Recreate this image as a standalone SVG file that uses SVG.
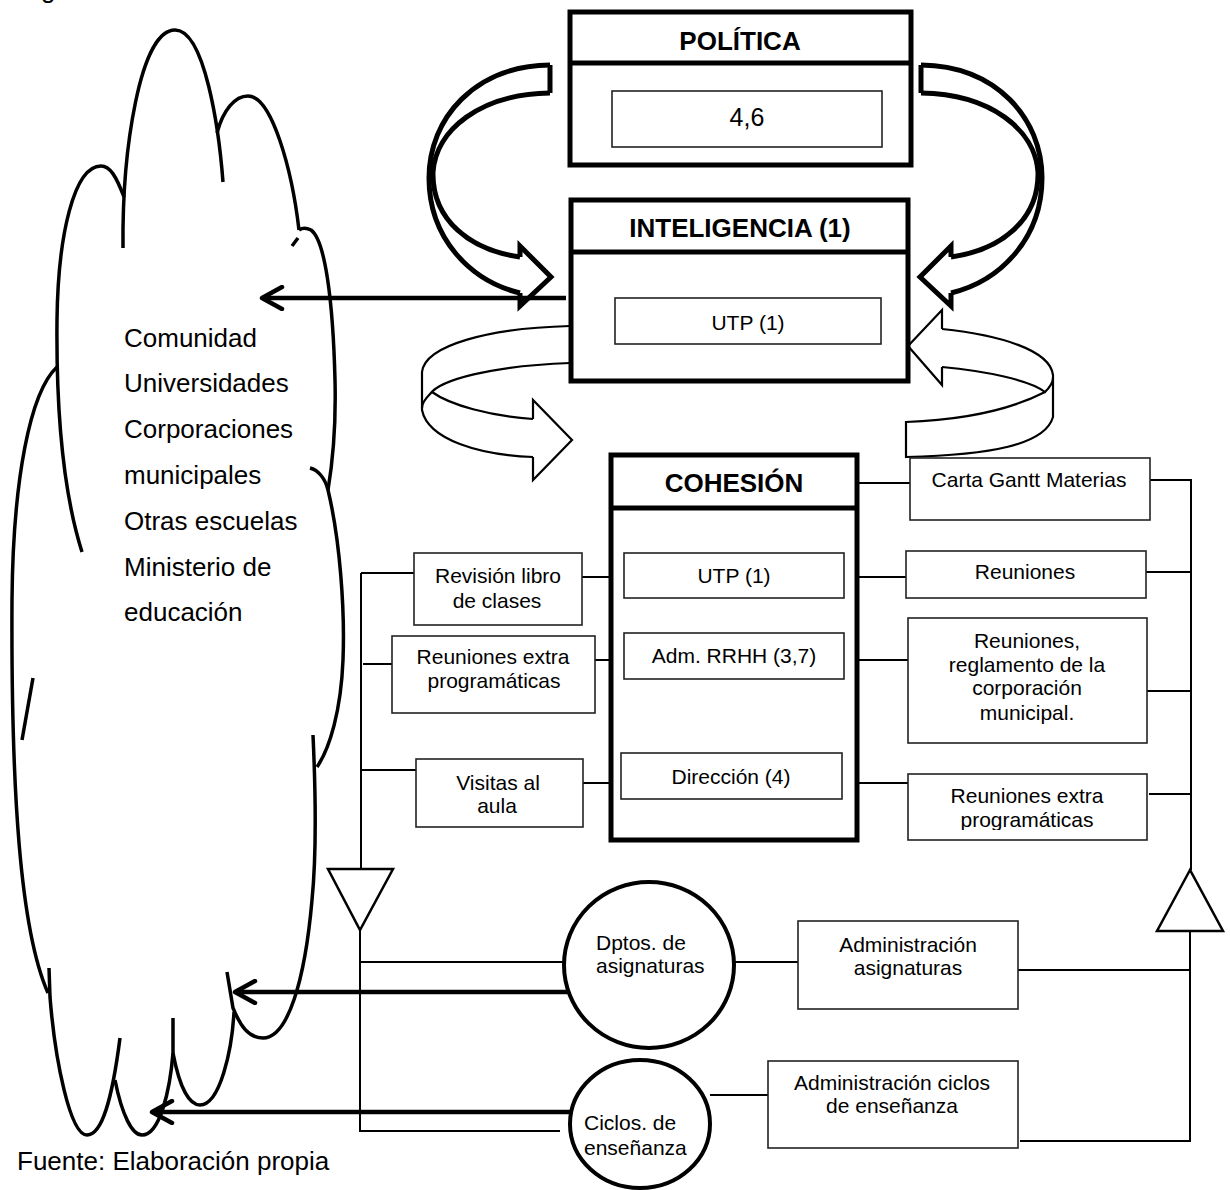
<svg xmlns="http://www.w3.org/2000/svg" width="1230" height="1190" viewBox="0 0 1230 1190">
<defs>
<style>
text{font-family:"Liberation Sans",Arial,sans-serif;fill:#000}
.t{font-size:21px;text-anchor:middle}
.tl{font-size:21px}
.h{font-size:26px;font-weight:bold;text-anchor:middle}
.c{font-size:26px}
.frame{fill:#fff;stroke:#000;stroke-width:5}
.box{fill:#fff;stroke:#222;stroke-width:1.6}
.ln{fill:none;stroke:#000;stroke-width:2}
.thick{fill:none;stroke:#000;stroke-width:4.5}
.cloud{fill:none;stroke:#000;stroke-width:3.5}
.rib{fill:none;stroke:#000;stroke-width:5;stroke-linejoin:miter}
.rib2{fill:none;stroke:#000;stroke-width:2.2;stroke-linejoin:miter}
.ball{fill:#fff;stroke:#000;stroke-width:4}
.tri{fill:#fff;stroke:#000;stroke-width:2.5}
</style>
<marker id="open" viewBox="0 0 26 26" refX="23" refY="13" markerWidth="26" markerHeight="26" markerUnits="userSpaceOnUse" orient="auto">
<path d="M3,2 L23,13 L3,24" fill="none" stroke="#000" stroke-width="4.5" stroke-linecap="round" stroke-linejoin="round"/>
</marker>
<clipPath id="clipExtra"><rect x="908" y="774" width="239" height="56"/></clipPath>
<!-- curved ribbon arrow, tail at the top right, head at the bottom right -->
<g id="bigCurve">
<path class="rib" d="M550,65 L550,93"/>
<path class="rib" d="M550,65 C 475,66 429,118 429,178 C 429,238 470,281 520,293"/>
<path class="rib" d="M550,93 C 480,94 436,130 433,172 C 432,220 470,250 520,257"/>
<path class="rib" d="M520,257 L520,246 L551,277 L520,306 L520,293"/>
</g>
</defs>
<rect width="1230" height="1190" fill="#fff"/>

<!-- caption fragment above the figure -->
<text class="c" x="41" y="-2">g</text>

<!-- environment cloud -->
<g id="cloud">
<path class="cloud" d="M124,197 C 116,176 110,166 101,166 C 74,166 58,235 57,320 C 56,420 64,495 82,552"/>
<path class="cloud" d="M123,248 C 122,150 140,30 175,30 C 205,30 219,130 223,182"/>
<path class="cloud" d="M217,133 C 223,110 235,96 248,96 C 272,96 292,170 299,230"/>
<path class="cloud" d="M299,230 C 302,228 307,228 311,230 C 325,240 333,300 335,380 C 336,420 333,460 328,490"/>
<path class="cloud" d="M292,246 L298,238"/>
<path class="cloud" d="M310,468 C 318,470 325,478 328,490 C 340,540 345,610 343,660 C 341,710 330,748 317,767"/>
<path class="cloud" d="M313,735 C 316,800 316,860 312,900 C 305,980 288,1038 263,1038 C 248,1038 240,1025 233,1008 L 227,972"/>
<path class="cloud" d="M173,1053 C 180,1090 190,1105 200,1105 C 220,1105 232,1050 234,1012"/>
<path class="cloud" d="M115,1080 C 122,1115 132,1135 142,1135 C 160,1135 170,1090 173,1053 L 173,1018"/>
<path class="cloud" d="M49,968 L50,997 C 55,1060 70,1135 87,1135 C 102,1135 112,1100 120,1038"/>
<path class="cloud" d="M57,367 C 30,392 13,480 12,600 C 11,790 20,930 48,993"/>
<path class="cloud" d="M33,678 L22,740"/>
<g id="cloud-text">
<text class="c" x="124" y="347">Comunidad</text>
<text class="c" x="124" y="392">Universidades</text>
<text class="c" x="124" y="438">Corporaciones</text>
<text class="c" x="124" y="484">municipales</text>
<text class="c" x="124" y="530">Otras escuelas</text>
<text class="c" x="124" y="576">Ministerio de</text>
<text class="c" x="124" y="621">educación</text>
</g>
</g>

<!-- connectors -->
<g id="connectors">
<!-- feedback ribbons -->
<use href="#bigCurve"/>
<use href="#bigCurve" transform="translate(1471,0) scale(-1,1)"/>
<path class="rib2" d="M570,326 C 490,328 425,345 422,372 L422,410 C 428,440 480,455 533,457"/>
<path class="rib2" d="M570,363 C 490,366 440,380 430,394 C 424,400 422,405 422,408"/>
<path class="rib2" d="M432,392 C 450,405 490,416 533,419"/>
<path class="rib2" d="M533,419 L533,400 L572,440 L533,480 L533,457"/>
<path class="rib2" d="M942,329 C 1000,335 1050,350 1053,375 L1053,417 C 1045,445 990,455 906,457 L906,422 C 960,420 1010,410 1045,392"/>
<path class="rib2" d="M942,367 C 985,371 1030,380 1045,392 C 1050,387 1053,382 1053,378"/>
<path class="rib2" d="M942,367 L942,385 L908,346 L942,310 L942,329"/>

<!-- outputs to the environment -->
<path class="thick" d="M566,298 L262,298" marker-end="url(#open)"/>
<path class="thick" d="M569,992 L235,992" marker-end="url(#open)"/>
<path class="thick" d="M572,1112 L152,1112" marker-end="url(#open)"/>

<!-- left branch -->
<path class="ln" d="M361,573 L361,869"/>
<path class="ln" d="M361,573 L414,573"/>
<path class="ln" d="M363,664 L392,664"/>
<path class="ln" d="M361,770 L422,770"/>
<path class="ln" d="M360,930 L360,1131 L560,1131"/>
<path class="ln" d="M360,962 L565,962"/>

<!-- links into the cohesion column -->
<path class="ln" d="M582,577 L624,577"/>
<path class="ln" d="M585,660 L624,660"/>
<path class="ln" d="M583,783 L621,783"/>
<path class="ln" d="M844,577 L906,577"/>
<path class="ln" d="M847,660 L908,660"/>
<path class="ln" d="M846,783 L908,783"/>
<path class="ln" d="M857,483 L910,483"/>

<!-- right branch -->
<path class="ln" d="M1150,480 L1191,480 L1191,870"/>
<path class="ln" d="M1146,572 L1191,572"/>
<path class="ln" d="M1147,691 L1191,691"/>
<path class="ln" d="M1149,794 L1191,794"/>
<path class="ln" d="M1190,931 L1190,1141 L1020,1141"/>
<path class="ln" d="M1018,970 L1190,970"/>

<!-- bottom links -->
<path class="ln" d="M734,962 L798,962"/>
<path class="ln" d="M710,1095 L768,1095"/>
</g>

<!-- merge triangles -->
<g id="tri-left"><path class="tri" d="M328,869 L393,869 L360,930 Z"/></g>
<g id="tri-right"><path class="tri" d="M1190,870 L1157,931 L1223,931 Z"/></g>

<!-- POLÍTICA -->
<g id="politica">
<rect class="frame" x="570" y="12" width="341" height="153"/>
<path class="frame" d="M570,63 L911,63"/>
<text class="h" x="740" y="50">POLÍTICA</text>
<rect class="box" x="612" y="91" width="270" height="56"/>
<text x="747" y="126" font-size="25" text-anchor="middle">4,6</text>
</g>

<!-- INTELIGENCIA -->
<g id="inteligencia">
<rect class="frame" x="571" y="200" width="337" height="181"/>
<path class="frame" d="M571,252 L908,252"/>
<text class="h" x="740" y="237">INTELIGENCIA (1)</text>
<rect class="box" x="615" y="298" width="266" height="46"/>
<text class="t" x="748" y="330">UTP (1)</text>
</g>

<!-- COHESIÓN -->
<g id="cohesion">
<rect class="frame" x="611" y="455" width="246" height="385"/>
<path class="frame" d="M611,508 L857,508"/>
<text class="h" x="734" y="492">COHESIÓN</text>
<g id="coh-utp"><rect class="box" x="624" y="553" width="220" height="45"/><text class="t" x="734" y="583">UTP (1)</text></g>
<g id="coh-rrhh"><rect class="box" x="624" y="633" width="220" height="46"/><text class="t" x="734" y="663">Adm. RRHH (3,7)</text></g>
<g id="coh-dir"><rect class="box" x="621" y="753" width="221" height="46"/><text class="t" x="731" y="784">Dirección (4)</text></g>
</g>

<!-- left activity boxes -->
<g id="revision"><rect class="box" x="414" y="553" width="168" height="72"/>
<text class="t" x="498" y="583">Revisión libro</text><text class="t" x="497" y="608">de clases</text></g>
<g id="extra-left"><rect class="box" x="392" y="636" width="203" height="77"/>
<text class="t" x="493" y="664">Reuniones extra</text><text class="t" x="494" y="688">programáticas</text></g>
<g id="visitas"><rect class="box" x="416" y="759" width="167" height="68"/>
<text class="t" x="498" y="790">Visitas al</text><text class="t" x="497" y="813">aula</text></g>

<!-- right activity boxes -->
<g id="gantt"><rect class="box" x="910" y="458" width="240" height="62"/>
<text class="t" x="1029" y="487">Carta Gantt Materias</text></g>
<g id="reuniones"><rect class="box" x="906" y="551" width="240" height="47"/>
<text class="t" x="1025" y="579">Reuniones</text></g>
<g id="reglamento"><rect class="box" x="908" y="618" width="239" height="125"/>
<text class="t" x="1027" y="648">Reuniones,</text><text class="t" x="1027" y="672">reglamento de la</text>
<text class="t" x="1027" y="695">corporación</text><text class="t" x="1027" y="720">municipal.</text></g>
<g id="extra-right"><rect class="box" x="908" y="774" width="239" height="66"/>
<g clip-path="url(#clipExtra)"><text class="t" x="1027" y="803">Reuniones extra</text><text class="t" x="1027" y="827">programáticas</text></g></g>

<!-- units -->
<g id="dptos"><ellipse class="ball" cx="649" cy="965" rx="85" ry="83"/>
<text class="tl" x="596" y="950">Dptos. de</text><text class="tl" x="596" y="973">asignaturas</text></g>
<g id="ciclos"><ellipse class="ball" cx="640" cy="1124" rx="70" ry="64"/>
<text class="tl" x="584" y="1130">Ciclos. de</text><text class="tl" x="584" y="1155">enseñanza</text></g>
<g id="adm-asig"><rect class="box" x="798" y="921" width="220" height="88"/>
<text class="t" x="908" y="952">Administración</text><text class="t" x="908" y="975">asignaturas</text></g>
<g id="adm-ciclos"><rect class="box" x="768" y="1061" width="250" height="87"/>
<text class="t" x="892" y="1090">Administración ciclos</text><text class="t" x="892" y="1113">de enseñanza</text></g>

<text class="c" x="17" y="1170">Fuente: Elaboración propia</text>
</svg>
